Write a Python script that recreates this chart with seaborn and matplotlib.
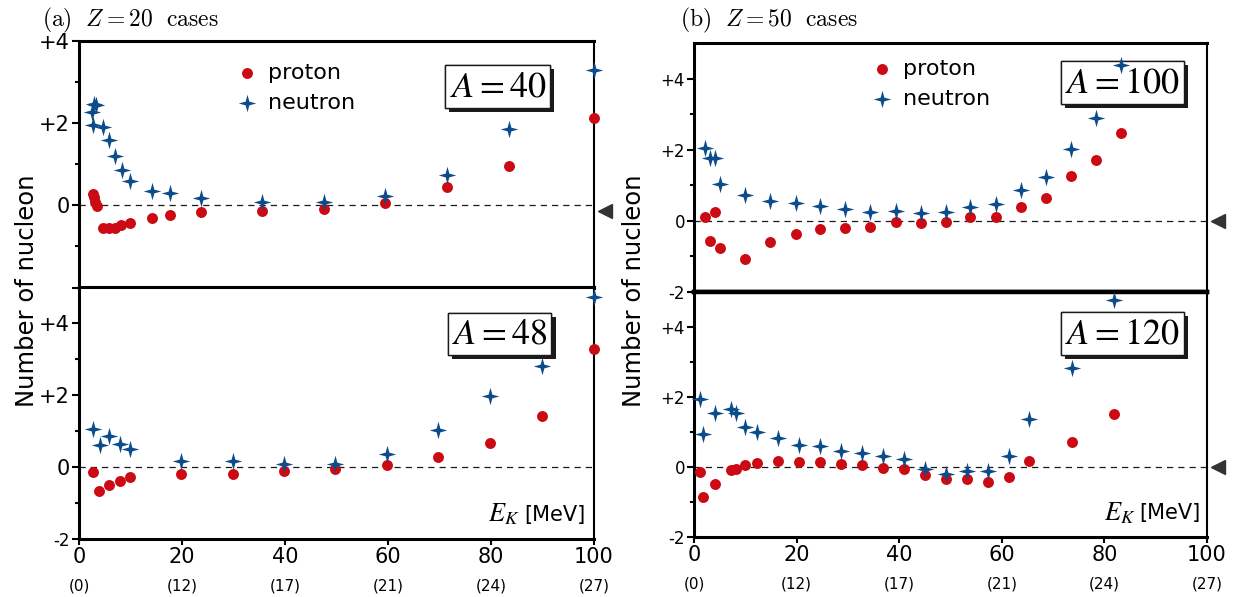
import matplotlib
matplotlib.use("Agg")
import matplotlib.pyplot as plt
import matplotlib.patheffects as pe
from matplotlib.path import Path
import numpy as np
import pandas as pd
import seaborn as sns

# Z = 20, A = 40
p40_x = [2.8, 3.0, 3.2, 3.5, 4.6, 5.8, 6.9, 8.2, 9.9, 14.2, 17.7, 23.7, 35.6, 47.5, 59.5, 71.4, 83.4, 100]
p40_y = [0.28, 0.20, 0.08, -0.02, -0.54, -0.54, -0.54, -0.49, -0.42, -0.31, -0.23, -0.16, -0.13, -0.08, 0.06, 0.44, 0.96, 2.13]
n40_x = [2.6, 3.0, 3.3, 2.8, 4.6, 5.9, 7.0, 8.3, 9.9, 14.2, 17.7, 23.7, 35.6, 47.5, 59.5, 71.4, 83.4, 100]
n40_y = [2.27, 2.47, 2.45, 1.96, 1.90, 1.59, 1.20, 0.87, 0.60, 0.36, 0.29, 0.19, 0.09, 0.09, 0.23, 0.75, 1.85, 3.29]

# Z = 20, A = 48
p48_x = [2.8, 3.9, 5.8, 7.9, 9.9, 19.8, 29.9, 39.8, 49.8, 59.9, 69.8, 79.9, 89.9, 100]
p48_y = [-0.14, -0.67, -0.49, -0.38, -0.28, -0.20, -0.20, -0.12, -0.06, 0.07, 0.29, 0.66, 1.43, 3.30]
n48_x = [2.8, 4.0, 5.8, 7.9, 9.9, 19.8, 29.9, 39.8, 49.8, 59.9, 69.8, 79.9, 89.9, 100]
n48_y = [1.07, 0.61, 0.86, 0.63, 0.51, 0.16, 0.18, 0.10, 0.08, 0.37, 1.03, 1.99, 2.82, 4.73]

# Z = 50, A = 100
x100 = [2.1, 3.1, 4.1, 5.1, 9.9, 14.8, 19.8, 24.6, 29.5, 34.4, 39.4, 44.2, 49.1, 53.9, 58.8, 63.7, 68.6, 73.5, 78.4, 83.2]
p100_y = [0.10, -0.57, 0.25, -0.77, -1.08, -0.60, -0.37, -0.24, -0.21, -0.16, -0.04, -0.06, -0.02, 0.10, 0.10, 0.40, 0.63, 1.25, 1.71, 2.47]
n100_y = [2.04, 1.78, 1.78, 1.03, 0.72, 0.57, 0.50, 0.41, 0.32, 0.24, 0.27, 0.21, 0.25, 0.38, 0.48, 0.86, 1.22, 2.01, 2.88, 4.37]

# Z = 50, A = 120
x120 = [1.1, 1.8, 4.0, 7.3, 8.2, 10.0, 12.3, 16.3, 20.5, 24.6, 28.7, 32.8, 36.8, 40.9, 45.0, 49.1, 53.2, 57.3, 61.4, 65.4, 73.7, 81.9]
p120_y = [-0.14, -0.86, -0.48, -0.10, -0.05, 0.07, 0.12, 0.18, 0.13, 0.15, 0.09, 0.06, -0.02, -0.07, -0.24, -0.35, -0.35, -0.42, -0.28, 0.17, 0.71, 1.52]
n120_y = [1.93, 0.93, 1.55, 1.66, 1.55, 1.14, 0.99, 0.84, 0.64, 0.59, 0.45, 0.39, 0.30, 0.24, -0.05, -0.21, -0.12, -0.11, 0.30, 1.38, 2.82, 4.76]

ek_ticks = [0, 20, 40, 60, 80, 100]
ek_sub = ["(0)", "(12)", "(17)", "(21)", "(24)", "(27)"]

PROTON = "#cc0a14"
NEUTRON = "#0c4c8c"

sns.set_theme(style="ticks")
plt.rcParams["font.family"] = ["DejaVu Sans"]
for key in ["text.color", "axes.labelcolor", "xtick.color", "ytick.color", "axes.edgecolor"]:
    plt.rcParams[key] = "black"

# four point star like the original
r_in = 0.3
ang = np.arange(8) * np.pi / 4 + np.pi / 2
rad = np.where(np.arange(8) % 2 == 0, 1.0, r_in)
star_verts = np.column_stack([rad * np.cos(ang), rad * np.sin(ang)])
star = Path(np.vstack([star_verts, star_verts[:1]]), closed=True)

fig = plt.figure(figsize=(12.36, 5.97), dpi=100)
axL1 = fig.add_axes([0.0639, 0.5184, 0.4167, 0.4129])
axL2 = fig.add_axes([0.0639, 0.0972, 0.4167, 0.4213])
axR1 = fig.add_axes([0.5615, 0.5109, 0.4150, 0.4171])
axR2 = fig.add_axes([0.5615, 0.1005, 0.4150, 0.4104])

panels = [
    (axL1, p40_x, p40_y, n40_x, n40_y, "40", (-2, 4), 15, ["", "0", "+2", "+4"]),
    (axL2, p48_x, p48_y, n48_x, n48_y, "48", (-2, 5), 15, ["-2", "0", "+2", "+4"]),
    (axR1, x100, p100_y, x100, n100_y, "100", (-2, 5), 12, ["-2", "0", "+2", "+4"]),
    (axR2, x120, p120_y, x120, n120_y, "120", (-2, 5), 12, ["-2", "0", "+2", "+4"]),
]
box_pos = {"40": (0.813, 0.815), "48": (0.8165, 0.815), "100": (0.835, 0.841), "120": (0.835, 0.83)}

for ax, px, py, nx, ny, A, ylim, fs, ylabels in panels:
    ax.axhline(0, color="k", lw=0.9, ls=(0, (5, 4)), zorder=1)
    sns.scatterplot(x=px, y=py, ax=ax, color=PROTON, marker="o", s=62,
                    linewidth=0, clip_on=False, zorder=5, label="proton")
    sns.scatterplot(x=nx, y=ny, ax=ax, color=NEUTRON, marker=star, s=160,
                    linewidth=0, clip_on=False, zorder=5, label="neutron")
    ax.set_xlim(0, 100)
    ax.set_ylim(*ylim)
    ax.set_xlabel("")
    ax.set_ylabel("")
    ax.set_yticks([-2, 0, 2, 4])
    ax.set_yticks([-1, 1, 3], minor=True)
    ax.set_yticklabels(ylabels)
    ax.tick_params(axis="y", which="major", direction="out", length=5, width=1.5, pad=1.5, labelsize=fs)
    ax.tick_params(axis="y", which="minor", direction="out", length=3, width=1.5)
    ax.get_yticklabels()[0].set_fontsize(12)
    for sp in ["left", "top", "bottom"]:
        ax.spines[sp].set_linewidth(2.2)
    ax.spines["right"].set_linewidth(1.5)
    if ax is axR1:
        ax.spines["bottom"].set_linewidth(3.2)
    if ax is axR2:
        ax.spines["top"].set_linewidth(3.2)

    t = ax.text(*box_pos[A], "$A=" + A + "$", transform=ax.transAxes, ha="center", va="center",
                fontsize=26, math_fontfamily="stix", zorder=3,
                bbox=dict(boxstyle="square,pad=0.12", fc="white", ec="k", lw=1.0))
    t.get_bbox_patch().set_path_effects(
        [pe.withSimplePatchShadow(offset=(3, -3), shadow_rgbFace="k", alpha=1.0), pe.Normal()])

    if ax.get_legend() is not None:
        ax.get_legend().remove()

# top panels: no x ticks, legend
for ax, anchor in [(axL1, (0.3045, 0.911)), (axR1, (0.345, 0.936))]:
    ax.tick_params(axis="x", which="both", bottom=False, labelbottom=False)
    h, l = ax.get_legend_handles_labels()
    ax.legend(h, l, loc="upper left", bbox_to_anchor=anchor, frameon=False, fontsize=16,
              handlelength=1.0, handletextpad=0.45, labelspacing=0.45, borderpad=0, borderaxespad=0)

# bottom panels: energy ticks and the second row of labels
for ax, xr in [(axL2, 0.983), (axR2, 0.988)]:
    ax.set_xticks(ek_ticks)
    ax.set_xticklabels([str(v) for v in ek_ticks])
    ax.tick_params(axis="x", direction="out", length=4, width=1.5, pad=2, labelsize=15)
    for v, s in zip(ek_ticks, ek_sub):
        ax.annotate(s, xy=(v, 0), xycoords=("data", "axes fraction"), xytext=(0, -34),
                    textcoords="offset points", ha="center", va="center", fontsize=11)
    ax.text(xr, 0.097, "[MeV]", transform=ax.transAxes, ha="right", va="center", fontsize=15)
    ax.annotate("$E_K$", xy=(xr, 0.097), xycoords="axes fraction", xytext=(-47, 0),
                textcoords="offset points", ha="right", va="center", fontsize=19,
                math_fontfamily="stix")

# reference marks on the right edge
for ax, yv in [(axL1, -0.13), (axR1, 0), (axR2, 0)]:
    ax.plot([102.1], [yv], marker="<", ms=10.5, color="#333333", clip_on=False, ls="none")

fig.text(42 / 1236, 1 - 20 / 597, r"$\mathrm{(a)}\ \ Z=20\ \ \mathrm{cases}$", fontsize=17,
         ha="left", va="center", math_fontfamily="cm")
fig.text(680 / 1236, 1 - 20 / 597, r"$\mathrm{(b)}\ \ Z=50\ \ \mathrm{cases}$", fontsize=17,
         ha="left", va="center", math_fontfamily="cm")
fig.text(27 / 1236, 1 - 291 / 597, "Number of nucleon", rotation=90, ha="center", va="center", fontsize=17.5)
fig.text(634 / 1236, 1 - 291 / 597, "Number of nucleon", rotation=90, ha="center", va="center", fontsize=17.5)

fig.savefig("out.png", dpi=100, facecolor="white")
